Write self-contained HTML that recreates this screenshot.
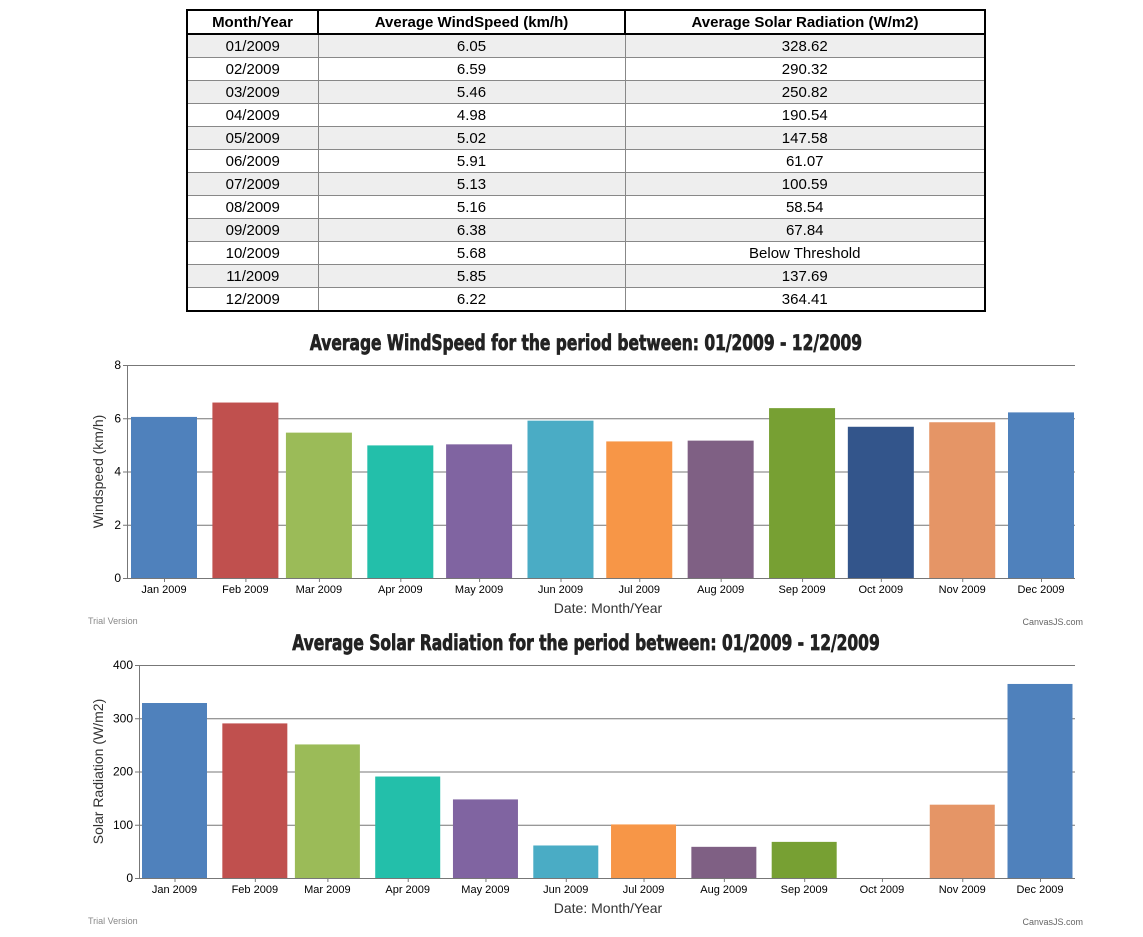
<!DOCTYPE html>
<html><head><meta charset="utf-8"><style>
body{margin:0;background:#fff;width:1143px;height:937px;overflow:hidden;position:relative;font-family:"Liberation Sans",Arial,sans-serif}
table{position:absolute;left:186px;top:9px;width:800px;border-collapse:collapse;border:2px solid #000;font-size:15px;color:#000}
th{height:22px;border:2px solid #000;font-weight:bold;padding:0;font-size:15px}
td{height:22px;border:1px solid #888;text-align:center;padding:0;line-height:21px}
tr.o td{background:#eee}
svg{position:absolute;left:0;top:0}
</style></head><body>
<table>
<colgroup><col style="width:131px"><col style="width:307px"><col style="width:360px"></colgroup>
<tr><th>Month/Year</th><th>Average WindSpeed (km/h)</th><th>Average Solar Radiation (W/m2)</th></tr>
<tr class="o"><td>01/2009</td><td>6.05</td><td>328.62</td></tr>
<tr><td>02/2009</td><td>6.59</td><td>290.32</td></tr>
<tr class="o"><td>03/2009</td><td>5.46</td><td>250.82</td></tr>
<tr><td>04/2009</td><td>4.98</td><td>190.54</td></tr>
<tr class="o"><td>05/2009</td><td>5.02</td><td>147.58</td></tr>
<tr><td>06/2009</td><td>5.91</td><td>61.07</td></tr>
<tr class="o"><td>07/2009</td><td>5.13</td><td>100.59</td></tr>
<tr><td>08/2009</td><td>5.16</td><td>58.54</td></tr>
<tr class="o"><td>09/2009</td><td>6.38</td><td>67.84</td></tr>
<tr><td>10/2009</td><td>5.68</td><td>Below Threshold</td></tr>
<tr class="o"><td>11/2009</td><td>5.85</td><td>137.69</td></tr>
<tr><td>12/2009</td><td>6.22</td><td>364.41</td></tr>
</table>
<svg id="c" width="1143" height="937"></svg>
<script>
const months=["Jan 2009","Feb 2009","Mar 2009","Apr 2009","May 2009","Jun 2009","Jul 2009","Aug 2009","Sep 2009","Oct 2009","Nov 2009","Dec 2009"];
const monthDays=[0,31,59,90,120,151,181,212,243,273,304,334];
const windValues=[6.05,6.59,5.46,4.98,5.02,5.91,5.13,5.16,6.38,5.68,5.85,6.22];
const solarValues=[328.62,290.32,250.82,190.54,147.58,61.07,100.59,58.54,67.84,null,137.69,364.41];
const windTicks=[0,2,4,6,8];
const solarTicks=[0,100,200,300,400];
const colors=["#4F81BC","#C0504E","#9BBB58","#23BFAA","#8064A1","#4AACC5","#F79647","#7F6084","#77A033","#33558B","#E59566","#4F81BC"];
const svg=document.getElementById('c');
const NS="http://www.w3.org/2000/svg";
function mk(tag,attrs,txt){const e=document.createElementNS(NS,tag);for(const k in attrs)e.setAttribute(k,attrs[k]);if(txt!==undefined)e.textContent=txt;svg.appendChild(e);return e;}
function chart(o){
  const x=d=>o.x0+(d)*o.sx;
  const y=v=>o.yb-(v/o.ymax)*(o.yb-o.yt);
  let t=mk('text',{x:o.tx,y:o.ty,'text-anchor':'middle','font-size':21,'font-weight':'bold','font-family':'"Liberation Sans Narrow","DejaVu Sans Condensed","Liberation Sans",sans-serif',fill:'#222',stroke:'#222','stroke-width':0.7,'transform':`translate(${o.tx},${o.ty}) scale(0.82,1) translate(${-o.tx},${-o.ty})`},o.title);
  
  o.ticks.forEach(v=>{
    const l=mk('line',{x1:o.xl-4,x2:1075,y1:y(v)+0.5,y2:y(v)+0.5,stroke:'#777','stroke-width':1});
    
    const tl=mk('text',{x:o.xl-6,y:y(v)+4,'text-anchor':'end','font-size':12,fill:'#000'},v);
    
  });
  o.vals.forEach((v,i)=>{
    const cx=x(monthDays[i]);
    if(v!==null){
      const r=mk('rect',{x:cx-o.bw/2,y:y(v),width:o.bw,height:o.yb-y(v),fill:colors[i]});
      
    }
    mk('line',{x1:cx+0.5,x2:cx+0.5,y1:o.yb,y2:o.yb+4,stroke:'#777'});
    const xl=mk('text',{x:cx,y:o.yb+15,'text-anchor':'middle','font-size':11,fill:'#000'},months[i]);
    
  });
  const ax=mk('line',{x1:o.xl+0.5,x2:o.xl+0.5,y1:o.yt,y2:o.yb+0.5,stroke:'#777'});
  
  const bx=mk('line',{x1:o.xl,x2:1075,y1:o.yb+0.5,y2:o.yb+0.5,stroke:'#777'});
  
  const yt=mk('text',{x:0,y:0,'text-anchor':'middle','font-size':14,fill:'#333',transform:`translate(${o.ytx},${(o.yt+o.yb)/2}) rotate(-90)`},o.ytitle);
  
  const xt=mk('text',{x:608,y:o.yb+35,'text-anchor':'middle','font-size':14,fill:'#333'},'Date: Month/Year');
  
  const tv=mk('text',{x:88,y:o.yb+46,'font-size':9,fill:'#888'},'Trial Version');
  
  const cj=mk('text',{x:1083,y:o.yb+47,'text-anchor':'end','font-size':9,fill:'#666'},'CanvasJS.com');
  
}
chart({id:'wind-chart',title:'Average WindSpeed for the period between: 01/2009 - 12/2009',tx:586,ty:350,x0:164,sx:(1041-164)/334,bw:66,xl:127,yt:365,yb:578,ymax:8,ticks:windTicks,vals:windValues,ytitle:'Windspeed  (km/h)',ytx:103});
chart({id:'solar-chart',title:'Average Solar Radiation for the period between: 01/2009 - 12/2009',tx:586,ty:650,x0:174.5,sx:(1040-174.5)/334,bw:65,xl:139,yt:665,yb:878,ymax:400,ticks:solarTicks,vals:solarValues,ytitle:'Solar Radiation  (W/m2)',ytx:103});
</script>
</body></html>
